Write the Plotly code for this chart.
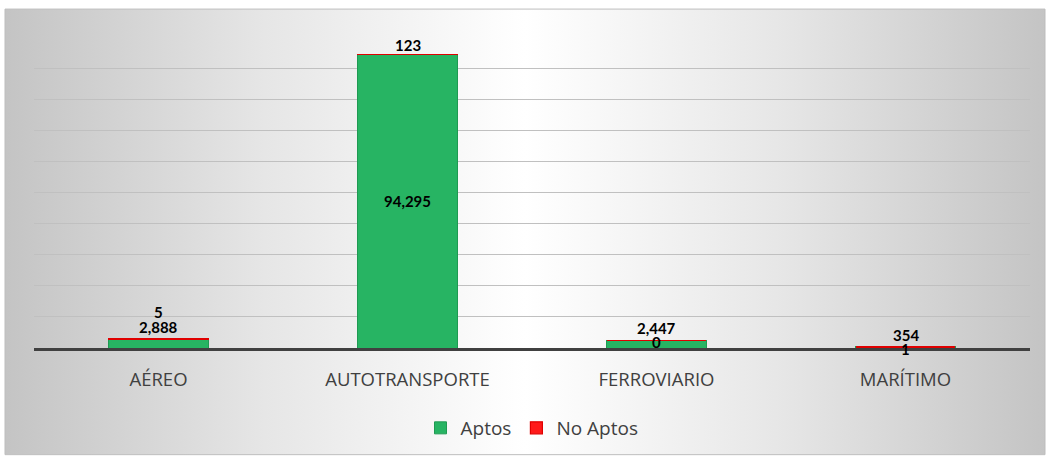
import base64
import plotly.graph_objects as go

categories = ["AÉREO", "AUTOTRANSPORTE", "FERROVIARIO", "MARÍTIMO"]
aptos = [2888, 94295, 2447, 354]
no_aptos = [5, 123, 0, 1]
y_ticks = [0, 10000, 20000, 30000, 40000, 50000, 60000, 70000, 80000, 90000, 100000]

GREEN = "#27b463"
GREEN_LINE = "#1f9a52"
RED = "#ff1a1a"
RED_LINE = "#e00000"

W, H = 1047, 458
L, R, T, B = 34, 17, 37, 109
pw, ph = W - L - R, H - T - B

fig = go.Figure()
fig.add_trace(go.Bar(x=categories, y=aptos, name="Aptos", width=0.4,
                     marker=dict(color=GREEN, line=dict(color=GREEN_LINE, width=1))))
fig.add_trace(go.Bar(x=categories, y=no_aptos, name="No Aptos", width=0.4,
                     marker=dict(color=RED, line=dict(color=RED_LINE, width=1.2))))

# background gradient box
svg = ('<svg xmlns="http://www.w3.org/2000/svg" width="1040" height="447" viewBox="0 0 1040 447" preserveAspectRatio="none">'
       '<defs><linearGradient id="g" x1="0" y1="0" x2="1" y2="0">'
       '<stop offset="0" stop-color="#c4c4c4"/><stop offset="0.25" stop-color="#e6e6e6"/>'
       '<stop offset="0.5" stop-color="#ffffff"/><stop offset="0.75" stop-color="#e6e6e6"/>'
       '<stop offset="1" stop-color="#c4c4c4"/></linearGradient></defs>'
       '<rect width="1040" height="447" fill="url(#g)"/></svg>')
src = "data:image/svg+xml;base64," + base64.b64encode(svg.encode()).decode()
bx0, bx1, by0, by1 = 5, 1045, 9, 456
px = lambda v: (v - L) / pw
py = lambda v: (H - B - v) / ph
fig.add_layout_image(dict(source=src, xref="paper", yref="paper", x=px(bx0), y=py(by0),
                          sizex=px(bx1) - px(bx0), sizey=py(by0) - py(by1),
                          xanchor="left", yanchor="top", sizing="stretch", layer="below"))
fig.add_shape(type="rect", xref="paper", yref="paper", x0=px(bx0), x1=px(bx1), y0=py(by1), y1=py(by0),
              line=dict(color="#bdbdbd", width=1), layer="below")

lab_font = dict(family="Lato, Calibri, sans-serif", size=15, color="#000000")
for i, c in enumerate(categories):
    total = aptos[i] + no_aptos[i]
    if aptos[i] > 20000:
        fig.add_annotation(x=c, y=aptos[i] / 2, text=f"<b>{aptos[i]:,}</b>", showarrow=False,
                           font=lab_font, yanchor="middle")
        fig.add_annotation(x=c, y=total, text=f"<b>{no_aptos[i]:,}</b>", showarrow=False,
                           font=lab_font, yanchor="middle", yshift=9)
    else:
        fig.add_annotation(x=c, y=total, text=f"<b>{aptos[i]:,}</b>", showarrow=False,
                           font=lab_font, yanchor="middle", yshift=12)
        shift = 27 if i == 0 else -2
        fig.add_annotation(x=c, y=total, text=f"<b>{no_aptos[i]:,}</b>", showarrow=False,
                           font=lab_font, yanchor="middle", yshift=shift)

fig.update_layout(
    barmode="stack",
    width=W, height=H,
    margin=dict(l=L, r=R, t=T, b=B),
    paper_bgcolor="#ffffff",
    plot_bgcolor="rgba(0,0,0,0)",
    bargap=0.6,
    showlegend=True,
    legend=dict(orientation="h", x=0.5, xanchor="center", y=py(428), yanchor="middle",
                font=dict(family="Open Sans, sans-serif", size=19, color="#404040"),
                bgcolor="rgba(0,0,0,0)", itemwidth=30, traceorder="normal"),
    xaxis=dict(showline=True, linecolor="#404040", linewidth=3, ticks="", showgrid=False,
               tickfont=dict(family="Open Sans, sans-serif", size=18.5, color="#404040"),
               ticklabelstandoff=13),
    yaxis=dict(range=[0, 100000], tickvals=y_ticks, showticklabels=False, showgrid=True,
               gridcolor="#c0c0c0", gridwidth=1, zeroline=False, showline=False),
)

fig.write_html("out.html", config={"displayModeBar": False},
               post_script="document.body.style.margin='0px';")
